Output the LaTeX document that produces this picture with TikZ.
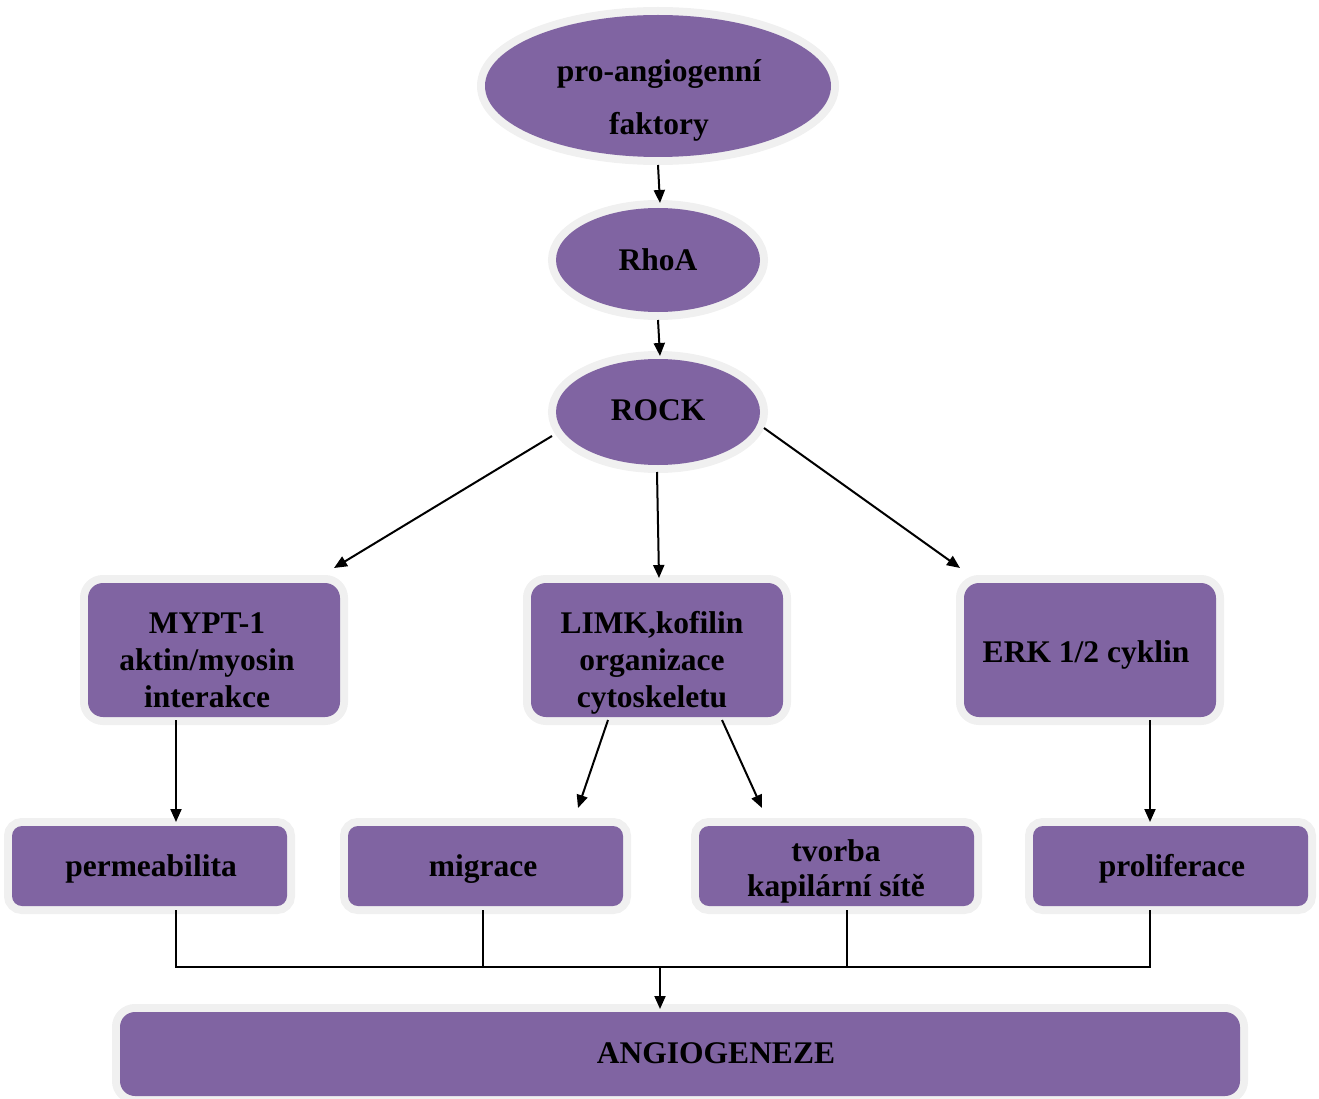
\documentclass[tikz,border=0pt]{standalone}
\usepackage{fontspec}
\setmainfont{Liberation Serif}
\usetikzlibrary{shapes.geometric,arrows.meta,calc}
\definecolor{fillp}{HTML}{8064A2}
\definecolor{bord}{HTML}{F0F0F0}
\tikzset{
  lab/.style={font=\bfseries\fontsize{31.5}{37}\selectfont, text=black, align=center, inner sep=0pt},
  ell/.style={ellipse, fill=fillp, preaction={draw=bord, line width=16pt}, inner sep=0pt, outer sep=0pt},
  bigbox/.style={rectangle, rounded corners=15pt, fill=fillp, preaction={draw=bord, line width=16pt}, inner sep=0pt, outer sep=0pt, minimum width=252pt, minimum height=134pt},
  smallbox/.style={rectangle, rounded corners=10pt, fill=fillp, preaction={draw=bord, line width=16pt}, inner sep=0pt, outer sep=0pt, minimum width=275pt, minimum height=80pt},
  arr/.style={line width=2pt, -{Triangle[length=13pt,width=11pt]}},
  conn/.style={line width=1.5pt}
}
\begin{document}
\begin{tikzpicture}[x=1pt,y=-1pt]
\useasboundingbox (0,0) rectangle (1319,1099);
% shapes
\node[ell, minimum width=346pt, minimum height=142pt] (pro) at (658,86) {};
\node[ell, minimum width=204pt, minimum height=104pt] (rhoa) at (658,260) {};
\node[ell, minimum width=204pt, minimum height=106pt] (rock) at (658,412) {};
\node[bigbox] (mypt) at (214,650) {};
\node[bigbox] (limk) at (657,650) {};
\node[bigbox] (erk) at (1090,650) {};
\node[smallbox] (perm) at (149.5,866) {};
\node[smallbox] (migr) at (485.5,866) {};
\node[smallbox] (tvorba) at (836.5,866) {};
\node[smallbox] (prolif) at (1170.5,866) {};
\node[rectangle, rounded corners=15pt, fill=fillp, preaction={draw=bord, line width=16pt}, inner sep=0pt, outer sep=0pt, minimum width=1120pt, minimum height=84pt] (angio) at (680,1054) {};
% texts
\node[lab, font=\bfseries\fontsize{31.5}{53}\selectfont] (proT) at (659,100) {pro-angiogenní\\faktory};
\node[lab] (rhoaT) at (658,260) {RhoA};
\node[lab] (rockT) at (658,410) {ROCK};
\node[lab] (myptT) at (207,660) {MYPT-1\\aktin/myosin\\interakce};
\node[lab] (limkT) at (652,663) {LIMK,kofilin\\organizace\\cytoskeletu};
\node[lab] (erkT) at (1086,655) {ERK 1/2 cyklin};
\node[lab] (permT) at (151,869) {permeabilita};
\node[lab] (migrT) at (483,869) {migrace};
\node[lab, font=\bfseries\fontsize{31.5}{35}\selectfont] (tvorbaT) at (836,871) {tvorba\\kapilární sítě};
\node[lab] (prolifT) at (1172,869) {proliferace};
\node[lab] (angioT) at (716,1053) {ANGIOGENEZE};
% arrows
\draw[arr] ($(pro.center)+(0,79)$) -- ($(rhoa.center)+(2,-57)$);
\draw[arr] ($(rhoa.center)+(0,60)$) -- ($(rock.center)+(2,-56)$);
\draw[arr] ($(rock.center)+(-106,24)$) -- ($(mypt.center)+(120,-82)$);
\draw[arr] ($(rock.center)+(-1,60)$) -- ($(limk.center)+(2,-72)$);
\draw[arr] ($(rock.center)+(106,16)$) -- ($(erk.center)+(-130,-82)$);
\draw[arr] ($(mypt.center)+(-38,70)$) -- ($(perm.center)+(26.5,-44)$);
\draw[arr] ($(limk.center)+(-49,70)$) -- ($(migr.center)+(92.5,-58)$);
\draw[arr] ($(limk.center)+(65,70)$) -- ($(tvorba.center)+(-74.5,-58)$);
\draw[arr] ($(erk.center)+(60,70)$) -- ($(prolif.center)+(-20.5,-44)$);
% collector
\coordinate (bus) at (660,967);
\draw[conn] ($(perm.center)+(26.5,44)$) |- (bus);
\draw[conn] ($(migr.center)+(-2.5,44)$) |- (bus);
\draw[conn] ($(tvorba.center)+(10.5,44)$) |- (bus);
\draw[conn] ($(prolif.center)+(-20.5,44)$) |- (bus);
\draw[arr] (bus) -- ($(angio.north -| bus)+(0,-3)$);
\end{tikzpicture}
\end{document}
